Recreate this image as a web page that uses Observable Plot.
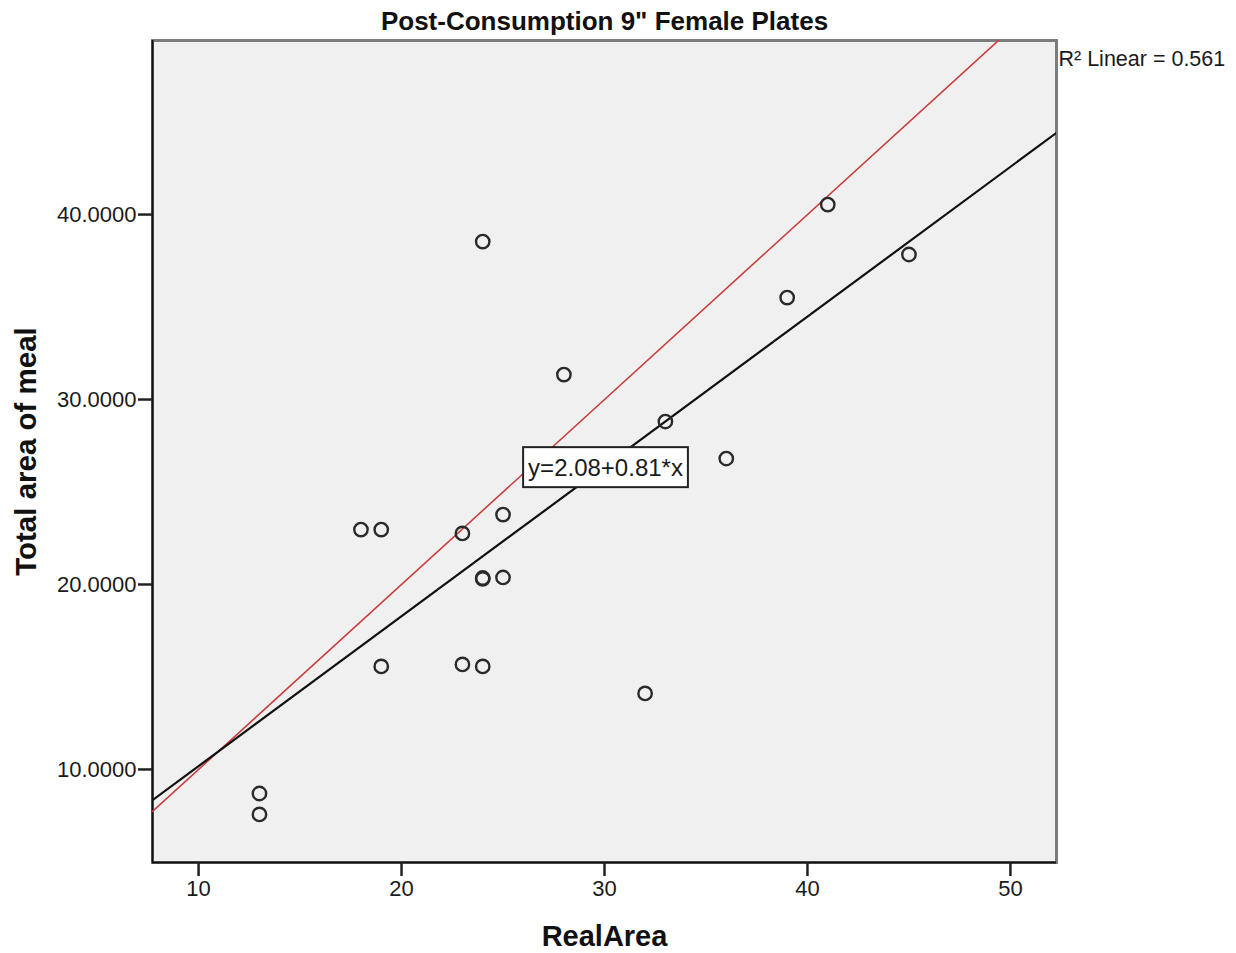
<!DOCTYPE html>
<html>
<head>
<meta charset="utf-8">
<script src="https://cdn.jsdelivr.net/npm/d3@7"></script>
<script src="https://cdn.jsdelivr.net/npm/@observablehq/plot@0.6"></script>
<style>
  html, body { margin: 0; padding: 0; background: #fff; }
  #chart svg { display: block; font-family: "Liberation Sans", Arial, sans-serif; }
</style>
</head>
<body>
<div id="chart"></div>
<script>
// Post-consumption measurements, 9" plates, female participants
const realArea = [13, 13, 18, 19, 19, 23, 23, 24, 24, 24, 24, 25, 25, 28, 32, 33, 36, 39, 41, 45];
const totalArea = [8.70, 7.57, 22.97, 22.97, 15.57, 22.76, 15.68, 38.54, 20.35, 20.30, 15.57, 23.78, 20.38, 31.35, 14.11, 28.81, 26.81, 35.51, 40.54, 37.84];

// Fitted linear model and its fit statistic
const intercept = 2.08;
const slope = 0.81;
const rSquared = 0.561;

// Axis ranges and ticks
const xDomain = [7.73, 52.27];
const yDomain = [4.97, 49.41];
const xTicks = [10, 20, 30, 40, 50];
const yTicks = [10, 20, 30, 40];

// Where the equation label sits (data units)
const equationAt = [{x: 30.05, y: 26.3}];

const points = realArea.map((x, i) => ({x, y: totalArea[i]}));
const fitLine = xDomain.map(x => ({x, y: intercept + slope * x}));
const identityLine = xDomain.map(x => ({x, y: x}));

const chart = Plot.plot({
  width: 1236,
  height: 953,
  marginLeft: 152,
  marginRight: 180,
  marginTop: 40,
  marginBottom: 91,
  style: {fontFamily: "'Liberation Sans', Arial, sans-serif", color: "#1a1a1a", background: "#fff"},
  x: {domain: xDomain},
  y: {domain: yDomain},
  marks: [
    Plot.frame({fill: "#f0f0f0", stroke: "#7d7d7d", strokeWidth: 3}),
    Plot.ruleX([xDomain[0]], {stroke: "#111", strokeWidth: 2}),
    Plot.ruleY([yDomain[0]], {stroke: "#111", strokeWidth: 2}),
    Plot.axisX({ticks: xTicks, tickSize: 14, tickPadding: 4, fontSize: 22, strokeWidth: 2.5, stroke: "#222", fill: "#1a1a1a", label: null}),
    Plot.axisY({ticks: yTicks, tickSize: 14, tickPadding: 2, fontSize: 22, strokeWidth: 2.5, stroke: "#222", fill: "#1a1a1a", tickFormat: d3.format(".4f"), label: null}),
    Plot.line(identityLine, {x: "x", y: "y", stroke: "#c8403f", strokeWidth: 1.6, clip: true}),
    Plot.line(fitLine, {x: "x", y: "y", stroke: "#111", strokeWidth: 2.2, clip: true}),
    Plot.dot(points, {x: "x", y: "y", r: 6.7, stroke: "#2a2a2a", strokeWidth: 2.4, fill: "none"}),
    Plot.text(equationAt, {
      x: "x", y: "y",
      text: () => `y=${intercept.toFixed(2)}+${slope.toFixed(2)}*x`,
      fontSize: 24, fill: "#1a1a1a", className: "eqn"
    }),
    Plot.text([`R² Linear = ${rSquared.toFixed(3)}`], {
      frameAnchor: "top-right", textAnchor: "start", dx: 2, dy: 10,
      text: d => d, fontSize: 21.5, fill: "#1a1a1a"
    }),
    Plot.text(["Post-Consumption 9\" Female Plates"], {
      frameAnchor: "top", dy: -29, text: d => d, fontSize: 26, fontWeight: "bold", fill: "#111"
    }),
    Plot.text(["RealArea"], {
      frameAnchor: "bottom", dy: 83, text: d => d, fontSize: 29, fontWeight: "bold", fill: "#111"
    }),
    Plot.text(["Total area of meal"], {
      frameAnchor: "left", dx: -126, rotate: -90, textAnchor: "middle",
      text: d => d, fontSize: 29.5, fontWeight: "bold", fill: "#111"
    })
  ]
});

document.getElementById("chart").appendChild(chart);

// White box behind the equation label
const eqText = chart.querySelector(".eqn text");
if (eqText) {
  const b = eqText.getBBox();
  const rect = document.createElementNS("http://www.w3.org/2000/svg", "rect");
  rect.setAttribute("x", b.x - 5);
  rect.setAttribute("y", b.y - 6.5);
  rect.setAttribute("width", b.width + 10);
  rect.setAttribute("height", b.height + 13);
  rect.setAttribute("fill", "#fff");
  rect.setAttribute("stroke", "#222");
  rect.setAttribute("stroke-width", 2);
  const tr = eqText.getAttribute("transform");
  if (tr) rect.setAttribute("transform", tr);
  eqText.parentNode.insertBefore(rect, eqText);
}
</script>
</body>
</html>
